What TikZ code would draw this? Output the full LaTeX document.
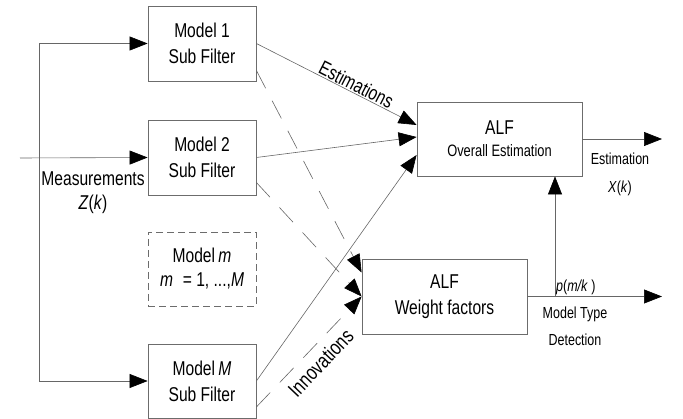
\documentclass[tikz,border=0pt]{standalone}
\usepackage{fontspec}
\setmainfont{Liberation Sans}[FakeStretch=0.78]
\usetikzlibrary{arrows.meta}

\tikzset{
	block/.style={shape=rectangle,draw=gray!85!black,line width=0.8pt,inner sep=0pt,align=center,font=\fontsize{20}{26}\selectfont},
	dashblock/.style={block,dash pattern=on 7pt off 4pt},
	feed/.style={draw=gray!80!black,line width=0.6pt,-{Triangle[length=18pt,width=14pt,color=black]}},
	hint/.style={feed,dash pattern=on 20pt off 14pt},
	lbl/.style={align=center,inner sep=1pt,font=\fontsize{16}{28}\selectfont},
	biglbl/.style={lbl,font=\fontsize{20}{24}\selectfont}
}

\begin{document}
\begin{tikzpicture}[x=1pt,y=-1pt]
	\useasboundingbox (0,0) rectangle (683,419);
	
	\node[block,minimum width=108pt,minimum height=75pt] (m1) at (202,43.5)   {Model 1\\Sub Filter};
	\node[block,minimum width=108pt,minimum height=75pt] (m2) at (202,157.5)  {Model 2\\Sub Filter};
	\node[dashblock,minimum width=108pt,minimum height=74pt] (mm) at (202,269) {Model\,\textit{m}\\[-2pt]\textit{m}\; = 1, ...,\textit{M}};
	\node[block,minimum width=108pt,minimum height=74pt] (mM) at (202,381)    {Model\,\textit{M}\\Sub Filter};
	\node[block,minimum width=165pt,minimum height=74pt] (alfest) at (499.5,139) {ALF\\[-4pt]{\fontsize{16.5}{20}\selectfont Overall Estimation}};
	\node[block,minimum width=165pt,minimum height=75pt] (alfwt) at (444.5,296.5) {ALF\\Weight factors};
	
	\coordinate (meas) at (20,158);
	\coordinate (bus) at (39,43.5);
	\coordinate (estout) at (662,139);
	\coordinate (pmk) at (555,296.5);
	\coordinate (wout) at (662,296.5);
	
	\draw[feed] (meas) -- (m2.west);
	\draw[feed] (bus) -- (m1.west);
	\draw[feed] (bus) |- (mM.west);
	\node[biglbl] (measlbl) at (93,193) {Measurements\\\textit{Z}(\textit{k})};
	
	\draw[feed] (m1.east) -- node[biglbl,above,sloped,pos=0.6] {Estimations} ([yshift=14pt]alfest.west);
	\draw[feed] (m2.east) -- ([yshift=2pt]alfest.west);
	\draw[feed] (mM.east) -- ([yshift=-16pt]alfest.west);
	\draw[hint] ([yshift=-27pt]m1.east) -- ([yshift=24pt]alfwt.west);
	\draw[hint] ([yshift=-25pt]m2.east) -- (alfwt.west);
	\draw[hint] ([yshift=-26pt]mM.east) -- node[biglbl,font=\fontsize{21}{24}\selectfont,below=7pt,sloped,pos=0.5] {Innovations} (alfwt.west);
	
	\draw[feed] (alfest.east) -- (estout);
	\node[lbl] (estlbl) at (620,174) {Estimation\\\textit{X}(\textit{k})};
	\draw[feed] (alfwt.east) -- (wout);
	\draw[feed] (pmk) -- (pmk |- alfest.south);
	\node[lbl,anchor=south west] (pmklbl) at (pmk) {\textit{p}(\textit{m/k} )};
	\node[lbl,font=\fontsize{16}{27}\selectfont] (mtd) at (575,326) {Model Type\\Detection};
	
\end{tikzpicture}
\end{document}
